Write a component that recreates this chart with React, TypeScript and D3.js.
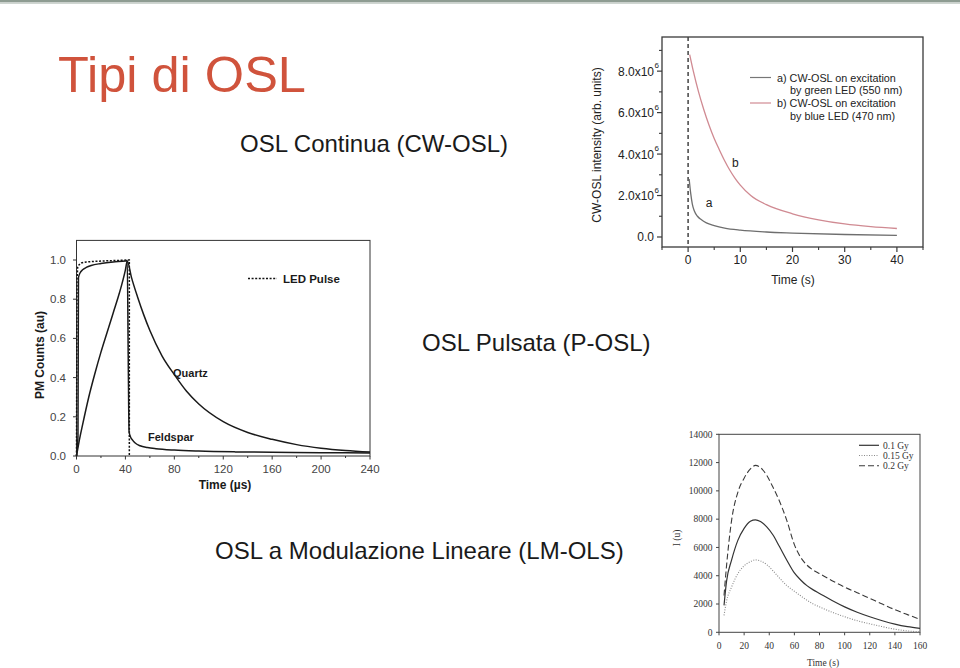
import React from "react";
import * as d3 from "d3";

// ---------- Slide texts ----------
const slideTitle = "Tipi di OSL";
const subtitleCW = "OSL Continua (CW-OSL)";
const subtitleP = "OSL Pulsata (P-OSL)";
const subtitleLM = "OSL a Modulazione Lineare (LM-OLS)";

// ---------- CW-OSL chart ----------
const cwTimeA = [0.2, 0.5, 0.8, 1.2, 1.8, 2.5, 3.5, 5, 7, 10, 15, 20, 30, 40];
const cwGreen = [2.8e6, 2.1e6, 1.6e6, 1.25e6, 1.0e6, 0.84e6, 0.68e6, 0.55e6, 0.43e6, 0.33e6, 0.24e6, 0.19e6, 0.12e6, 0.08e6];
const cwTimeB = [0.3, 1, 2, 3, 4, 5, 6, 7, 8, 9, 10, 12, 15, 20, 25, 30, 35, 40];
const cwBlue = [8.8e6, 8.0e6, 7.0e6, 6.15e6, 5.4e6, 4.75e6, 4.2e6, 3.68e6, 3.22e6, 2.83e6, 2.5e6, 2.0e6, 1.56e6, 1.12e6, 0.83e6, 0.63e6, 0.5e6, 0.41e6];
const cwXTicks = [0, 10, 20, 30, 40];
const cwXMinor = [-5, 5, 15, 25, 35, 45];
const cwYTicks = [0, 2e6, 4e6, 6e6, 8e6];
const cwYLabels = ["0.0", "2.0x10", "4.0x10", "6.0x10", "8.0x10"];
const cwYMinor = [1e6, 3e6, 5e6, 7e6, 9e6];
const cwLegend = [
  ["a) CW-OSL on excitation", "by green LED (550 nm)"],
  ["b) CW-OSL on excitation", "by blue LED (470 nm)"],
];

// ---------- P-OSL chart ----------
const pLedTime = [0, 0.4, 1, 2, 4, 8, 15, 25, 35, 42, 43.2, 43.2];
const pLed = [0, 0.9, 0.965, 0.975, 0.985, 0.99, 0.993, 0.996, 0.998, 1.0, 1.0, 0];
const pFeldTime = [0, 1.2, 1.6, 3, 5, 8, 12, 20, 30, 40, 41.5, 42.3, 43, 44, 46, 48, 52, 58, 65, 80, 100, 130, 160, 200, 240];
const pFeldspar = [0, 0.1, 0.91, 0.935, 0.95, 0.962, 0.972, 0.982, 0.99, 0.995, 0.998, 0.5, 0.125, 0.1, 0.08, 0.066, 0.052, 0.043, 0.037, 0.03, 0.025, 0.021, 0.019, 0.017, 0.015];
const pQuartzTime = [0, 2, 5, 10, 15, 20, 25, 30, 35, 40, 41.5, 45, 50, 55, 60, 70, 80, 90, 100, 120, 140, 160, 180, 200, 220, 240];
const pQuartz = [0, 0.07, 0.16, 0.3, 0.42, 0.53, 0.63, 0.73, 0.83, 0.95, 0.995, 0.91, 0.81, 0.72, 0.64, 0.51, 0.415, 0.33, 0.265, 0.175, 0.12, 0.085, 0.058, 0.04, 0.028, 0.02];
const pXTicks = [0, 40, 80, 120, 160, 200, 240];
const pXMinor = [20, 60, 100, 140, 180, 220];
const pYTicks = [0, 0.2, 0.4, 0.6, 0.8, 1.0];

// ---------- LM-OSL chart ----------
const lmTime = [4, 6, 10, 15, 20, 25, 29, 33, 38, 43, 48, 54, 60, 65, 70, 75, 80, 90, 100, 110, 120, 130, 140, 150, 160];
const lm01 = [1900, 3600, 5100, 6500, 7350, 7850, 7950, 7830, 7450, 6880, 6080, 5100, 4200, 3700, 3300, 3000, 2750, 2250, 1800, 1420, 1100, 820, 580, 400, 280];
const lm015 = [1200, 2200, 3200, 4150, 4700, 5000, 5120, 5050, 4780, 4350, 3850, 3300, 2900, 2580, 2270, 2000, 1800, 1420, 1100, 820, 600, 400, 220, 100, 30];
const lm02 = [2600, 4700, 7900, 9900, 10900, 11550, 11800, 11650, 11100, 10250, 9300, 7900, 6200, 5300, 4750, 4400, 4150, 3650, 3200, 2800, 2400, 2000, 1600, 1250, 920];
const lmXTicks = [0, 20, 40, 60, 80, 100, 120, 140, 160];
const lmYTicks = [0, 2000, 4000, 6000, 8000, 10000, 12000, 14000];
const lmLegend = ["0.1 Gy", "0.15 Gy", "0.2 Gy"];

const SANS = "'Liberation Sans', Arial, Helvetica, sans-serif";
const SERIF = "'Liberation Serif', 'Times New Roman', serif";

function CWChart() {
  const x = d3.scaleLinear().domain([-5, 45]).range([662, 923]);
  const y = d3.scaleLinear().domain([-0.483e6, 9.647e6]).range([247, 37]);
  const line = d3
    .line<[number, number]>()
    .x((d) => x(d[0]))
    .y((d) => y(d[1]))
    .curve(d3.curveMonotoneX);
  const a = cwTimeA.map((t, i) => [t, cwGreen[i]] as [number, number]);
  const b = cwTimeB.map((t, i) => [t, cwBlue[i]] as [number, number]);
  const [x0, x1] = x.range();
  const [y0, y1] = y.range();
  return (
    <g fontFamily={SANS}>
      <rect x={x0} y={y1} width={x1 - x0} height={y0 - y1} fill="#fff" stroke="#3a3a3a" strokeWidth={1.3} />
      <line x1={x(0)} x2={x(0)} y1={y1} y2={y0} stroke="#444" strokeWidth={1.5} strokeDasharray="4,3" />
      <path d={line(b) || ""} fill="none" stroke="#d08a92" strokeWidth={1.3} />
      <path d={line(a) || ""} fill="none" stroke="#6e6e6e" strokeWidth={1.3} />
      {cwXTicks.map((t) => (
        <g key={"xt" + t}>
          <line x1={x(t)} x2={x(t)} y1={y0} y2={y0 + 5} stroke="#3a3a3a" strokeWidth={1.2} />
          <text x={x(t)} y={264} fontSize={12} textAnchor="middle" fill="#222">{t}</text>
        </g>
      ))}
      {cwXMinor.map((t) => (
        <line key={"xm" + t} x1={x(t)} x2={x(t)} y1={y0} y2={y0 + 3} stroke="#3a3a3a" strokeWidth={1.1} />
      ))}
      {cwYTicks.map((v, i) => (
        <g key={"yt" + v}>
          <line x1={x0} x2={x0 - 5} y1={y(v)} y2={y(v)} stroke="#3a3a3a" strokeWidth={1.2} />
          <text x={654} y={y(v) + 4.5} fontSize={12} textAnchor="end" fill="#222">{cwYLabels[i]}</text>
          {i > 0 && (
            <text x={654.5} y={y(v) - 3} fontSize={8} fill="#222">6</text>
          )}
        </g>
      ))}
      {cwYMinor.map((v) => (
        <line key={"ym" + v} x1={x0} x2={x0 - 3} y1={y(v)} y2={y(v)} stroke="#3a3a3a" strokeWidth={1.1} />
      ))}
      <text x={793} y={283.5} fontSize={12} textAnchor="middle" fill="#222">Time (s)</text>
      <text transform={`translate(601,145) rotate(-90)`} fontSize={12} textAnchor="middle" fill="#222">
        CW-OSL intensity (arb. units)
      </text>
      <text x={x(3.4)} y={207} fontSize={12} fill="#222">a</text>
      <text x={x(8.4)} y={167} fontSize={12} fill="#222">b</text>
      {cwLegend.map((lines, i) => (
        <g key={"lg" + i}>
          <line x1={750} x2={771} y1={77.5 + i * 25.5} y2={77.5 + i * 25.5} stroke={i === 0 ? "#777" : "#d08a92"} strokeWidth={1.2} />
          <text x={777} y={81.5 + i * 25.5} fontSize={10.8} fill="#222">{lines[0]}</text>
          <text x={790} y={94 + i * 25.5} fontSize={10.8} fill="#222">{lines[1]}</text>
        </g>
      ))}
    </g>
  );
}

function PChart() {
  const x = d3.scaleLinear().domain([0, 240]).range([76.5, 370]);
  const y = d3.scaleLinear().domain([0, 1.1]).range([456, 240.4]);
  const lineLin = d3
    .line<[number, number]>()
    .x((d) => x(d[0]))
    .y((d) => y(d[1]));
  const lineSm = d3
    .line<[number, number]>()
    .x((d) => x(d[0]))
    .y((d) => y(d[1]))
    .curve(d3.curveMonotoneX);
  const led = pLedTime.map((t, i) => [t, pLed[i]] as [number, number]);
  const feld = pFeldTime.map((t, i) => [t, pFeldspar[i]] as [number, number]);
  const qz = pQuartzTime.map((t, i) => [t, pQuartz[i]] as [number, number]);
  const [x0, x1] = x.range();
  const [y0, y1] = y.range();
  return (
    <g fontFamily={SANS}>
      <rect x={x0} y={y1} width={x1 - x0} height={y0 - y1} fill="#fff" stroke="#333" strokeWidth={1} />
      <path d={lineLin(led) || ""} fill="none" stroke="#111" strokeWidth={1.5} strokeDasharray="2,1.6" />
      <path d={lineSm(feld) || ""} fill="none" stroke="#1a1a1a" strokeWidth={1.5} />
      <path d={lineSm(qz) || ""} fill="none" stroke="#1a1a1a" strokeWidth={1.5} />
      {pXTicks.map((t) => (
        <g key={"xt" + t}>
          <line x1={x(t)} x2={x(t)} y1={y0} y2={y0 + 3.5} stroke="#333" />
          <text x={x(t)} y={473} fontSize={11.5} textAnchor="middle" fill="#444">{t}</text>
        </g>
      ))}
      {pXMinor.map((t) => (
        <line key={"xm" + t} x1={x(t)} x2={x(t)} y1={y0} y2={y0 + 2} stroke="#333" />
      ))}
      {pYTicks.map((v) => (
        <g key={"yt" + v}>
          <line x1={x0} x2={x0 - 3.5} y1={y(v)} y2={y(v)} stroke="#333" />
          <text x={66} y={y(v) + 4} fontSize={11.5} textAnchor="end" fill="#444">{v.toFixed(1)}</text>
        </g>
      ))}
      <text x={225} y={489} fontSize={12} fontWeight="bold" textAnchor="middle" fill="#1a1a1a">Time (µs)</text>
      <text transform={`translate(43.5,355) rotate(-90)`} fontSize={12} fontWeight="bold" textAnchor="middle" fill="#1a1a1a">
        PM Counts (au)
      </text>
      <line x1={248} x2={277} y1={278.5} y2={278.5} stroke="#111" strokeWidth={1.5} strokeDasharray="2,1.6" />
      <text x={283} y={283} fontSize={11.5} fontWeight="bold" fill="#1a1a1a">LED Pulse</text>
      <text x={173} y={377} fontSize={11} fontWeight="bold" fill="#1a1a1a">Quartz</text>
      <text x={148} y={441} fontSize={11} fontWeight="bold" fill="#1a1a1a">Feldspar</text>
    </g>
  );
}

function LMChart() {
  const x = d3.scaleLinear().domain([0, 160]).range([719, 920]);
  const y = d3.scaleLinear().domain([0, 14000]).range([632.3, 434.3]);
  const line = d3
    .line<[number, number]>()
    .x((d) => x(d[0]))
    .y((d) => y(d[1]))
    .curve(d3.curveMonotoneX);
  const series = [lm01, lm015, lm02];
  const styles = [
    { stroke: "#333", dash: "none", w: 1.2 },
    { stroke: "#8a8a8a", dash: "1,1.5", w: 1.1 },
    { stroke: "#3a3a3a", dash: "6,3", w: 1.1 },
  ];
  const [x0, x1] = x.range();
  const [y0, y1] = y.range();
  return (
    <g fontFamily={SERIF}>
      <rect x={x0} y={y1} width={x1 - x0} height={y0 - y1} fill="#fff" stroke="#444" strokeWidth={1} />
      {series.map((s, k) => (
        <path
          key={"s" + k}
          d={line(lmTime.map((t, i) => [t, s[i]] as [number, number])) || ""}
          fill="none"
          stroke={styles[k].stroke}
          strokeWidth={styles[k].w}
          strokeDasharray={styles[k].dash}
        />
      ))}
      {lmXTicks.map((t) => (
        <g key={"xt" + t}>
          <line x1={x(t)} x2={x(t)} y1={y0} y2={y0 + 3} stroke="#444" />
          <text x={x(t)} y={649} fontSize={9.5} textAnchor="middle" fill="#333">{t}</text>
        </g>
      ))}
      {lmYTicks.map((v) => (
        <g key={"yt" + v}>
          <line x1={x0} x2={x0 - 3} y1={y(v)} y2={y(v)} stroke="#444" />
          <text x={712.5} y={y(v) + 3.3} fontSize={9.5} textAnchor="end" fill="#333">{v}</text>
        </g>
      ))}
      <text x={823} y={665.5} fontSize={9.5} textAnchor="middle" fill="#333">Time (s)</text>
      <text transform={`translate(680,538) rotate(-90)`} fontSize={9.5} textAnchor="middle" fill="#333">I (u)</text>
      {lmLegend.map((lab, k) => (
        <g key={"lg" + k}>
          <line x1={859} x2={879} y1={445.3 + k * 10.2} y2={445.3 + k * 10.2} stroke={styles[k].stroke} strokeWidth={styles[k].w} strokeDasharray={styles[k].dash} />
          <text x={883} y={448.5 + k * 10.2} fontSize={9.5} fill="#333">{lab}</text>
        </g>
      ))}
    </g>
  );
}

export default function App() {
  return (
    <svg
      width={960}
      height={668}
      viewBox="0 0 960 668"
      style={{ position: "absolute", left: 0, top: 0, background: "#fff" }}
    >
      <rect x={0} y={0} width={960} height={668} fill="#fff" />
      <rect x={0} y={0} width={960} height={2.5} fill="#8e9c92" />
      <rect x={0} y={2.5} width={960} height={1.5} fill="#cfd6d1" />
      <text x={58} y={92} fontFamily={SANS} fontSize={50.5} fill="#d0533c">{slideTitle}</text>
      <text x={240} y={152} fontFamily={SANS} fontSize={24} fill="#1a1a1a">{subtitleCW}</text>
      <text x={422} y={351} fontFamily={SANS} fontSize={24} fill="#1a1a1a">{subtitleP}</text>
      <text x={215} y={559} fontFamily={SANS} fontSize={24} fill="#1a1a1a">{subtitleLM}</text>
      <CWChart />
      <PChart />
      <LMChart />
    </svg>
  );
}
